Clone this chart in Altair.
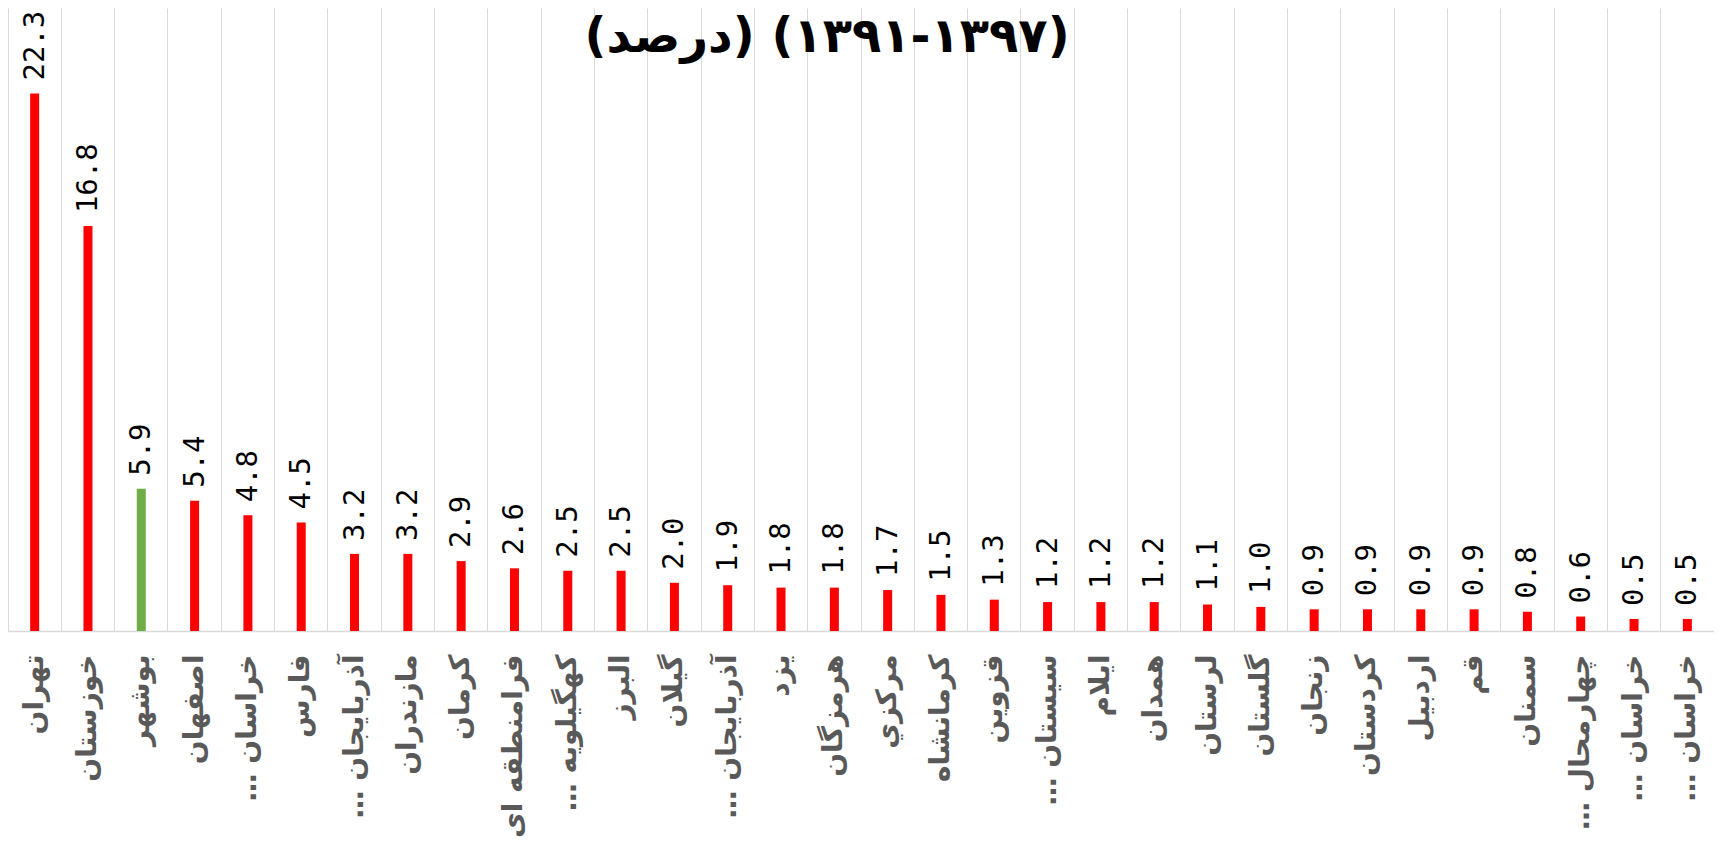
import altair as alt
import pandas as pd
import json

regions = ["تهران", "خوزستان", "بوشهر", "اصفهان", "خراسان رضوی", "فارس",
           "آذربایجان شرقی", "مازندران", "کرمان", "فرامنطقه ای", "کهگیلویه و بویراحمد",
           "البرز", "گیلان", "آذربایجان غربی", "یزد", "هرمزگان", "مرکزي", "کرمانشاه",
           "قزوین", "سیستان و بلوچستان", "ایلام", "همدان", "لرستان", "گلستان", "زنجان",
           "کردستان", "اردبیل", "قم", "سمنان", "چهارمحال و بختیاری", "خراسان شمالی",
           "خراسان جنوبی"]
tick_labels = ["تهران", "خوزستان", "بوشهر", "اصفهان", "خراسان …\u200f", "فارس",
               "آذربایجان …\u200f", "مازندران", "کرمان", "فرامنطقه ای", "کهگیلویه …\u200f",
               "البرز", "گیلان", "آذربایجان …\u200f", "یزد", "هرمزگان", "مرکزي", "کرمانشاه",
               "قزوین", "سیستان …\u200f", "ایلام", "همدان", "لرستان", "گلستان", "زنجان",
               "کردستان", "اردبیل", "قم", "سمنان", "چهارمحال …\u200f", "خراسان …\u200f",
               "خراسان …\u200f"]
values = [22.3, 16.8, 5.9, 5.4, 4.8, 4.5, 3.2, 3.2, 2.9, 2.6, 2.5, 2.5, 2.0, 1.9,
          1.8, 1.8, 1.7, 1.5, 1.3, 1.2, 1.2, 1.2, 1.1, 1.0, 0.9, 0.9, 0.9, 0.9, 0.8,
          0.6, 0.5, 0.5]
highlight = "بوشهر"
title_text = ["(درصد)\u200e (۱۳۹۱-۱۳۹۷)"]

df = pd.DataFrame({"idx": list(range(len(regions))), "region": regions, "value": values})
title_df = pd.DataFrame({"t": title_text})

label_expr = json.dumps(tick_labels, ensure_ascii=False) + "[datum.value]"

x_enc = alt.X("idx:O",
              scale=alt.Scale(paddingInner=0, paddingOuter=0),
              axis=alt.Axis(title=None, labelExpr=label_expr, labelAngle=270,
                            labelFont="DejaVu Sans", labelFontWeight="bold",
                            labelFontSize=28, labelColor="#595959",
                            labelPadding=23, labelLimit=200, ticks=False,
                            grid=True, gridColor="#D9D9D9", gridWidth=1,
                            bandPosition=0, domainColor="#D9D9D9", domainWidth=1.5))
y_enc = alt.Y("value:Q", scale=alt.Scale(domain=[0, 25.85], nice=False), axis=None)

bars = alt.Chart(df).mark_bar(size=9).encode(
    x=x_enc, y=y_enc,
    color=alt.condition(alt.datum.region == highlight, alt.value("#70AD47"), alt.value("#FF0000")),
)
labels = alt.Chart(df).mark_text(angle=270, align="left", baseline="middle", dx=13,
                                 font="DejaVu Sans Mono", fontSize=29, color="black").encode(
    x=x_enc, y=y_enc, text=alt.Text("value:Q", format=".1f"))

title_layer = alt.Chart(title_df).mark_text(
    font="DejaVu Sans", fontSize=48, fontWeight="bold", color="black",
    align="center", baseline="alphabetic").encode(
    x=alt.value(819), y=alt.value(44), text="t:N")

chart = alt.layer(bars, labels, title_layer).properties(
    width=1706, height=623,
    autosize=alt.AutoSizeParams(type="none"),
    padding={"left": 0, "top": 0, "right": 0, "bottom": 212},
).configure_view(stroke=None)

chart.save("out.html", embed_options={"renderer": "svg", "actions": False})
